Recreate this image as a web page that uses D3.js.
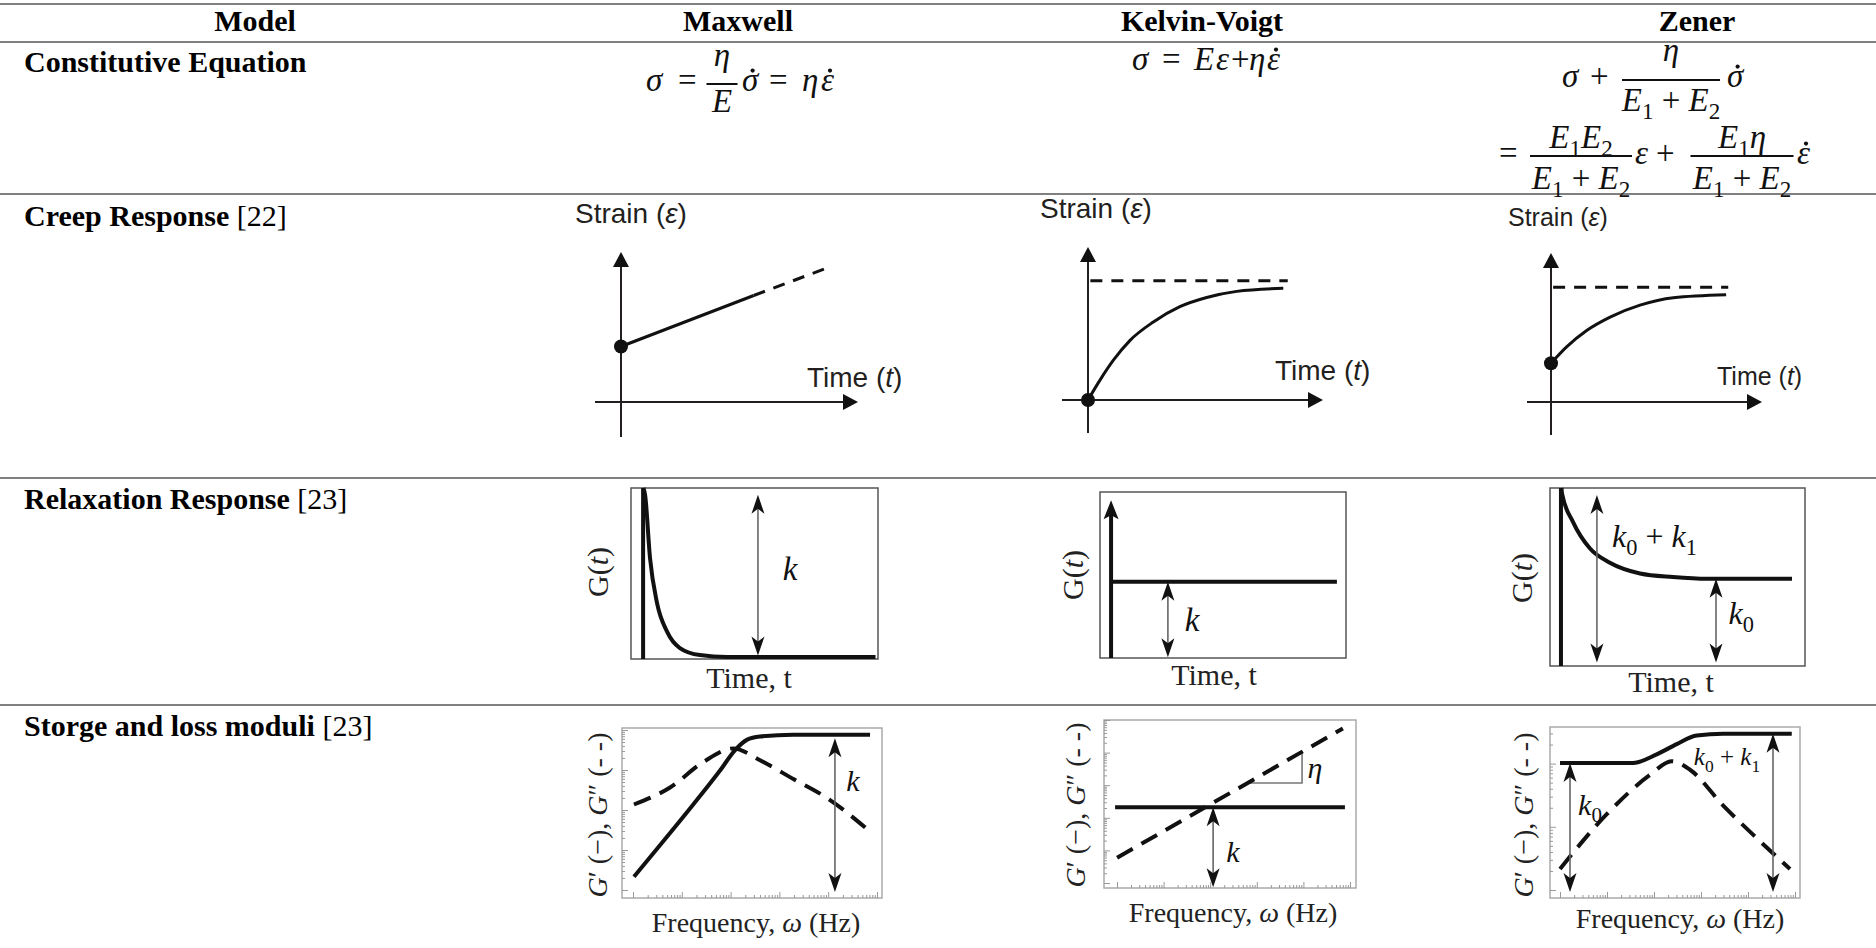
<!DOCTYPE html>
<html>
<head>
<meta charset="utf-8">
<script src="https://cdn.jsdelivr.net/npm/d3@7"></script>
<style>
  body { margin: 0; background: #fff; }
  text { white-space: pre; }
</style>
</head>
<body>
<div id="table"></div>
<script>
const serif = "'Liberation Serif', 'Times New Roman', serif";
const sans = "'Liberation Sans', Arial, sans-serif";
const ink = "#111";

// table text
let columns = ["Model", "Maxwell", "Kelvin-Voigt", "Zener"];
let rowTitles = ["Constitutive Equation", "Creep Response", "Relaxation Response", "Storge and loss moduli"];
let rowRefs = ["", " [22]", " [23]", " [23]"];

// creep response, time 0..10, strain 0..1
let maxwellCreepSolid = [[0, 0.37], [5.6, 0.71]];
let maxwellCreepDash = [[5.6, 0.71], [8.8, 0.90]];
let kelvinCreep = [[0, 0], [0.51, 0.13], [1.08, 0.26], [1.79, 0.39], [2.78, 0.51], [3.91, 0.61], [5.05, 0.67], [6.33, 0.71], [8.31, 0.73]];
let kelvinCreepLimit = [[0.1, 0.78], [8.5, 0.78]];
let zenerCreep = [[0, 0.26], [0.74, 0.37], [1.69, 0.48], [2.8, 0.57], [4.22, 0.65], [5.8, 0.70], [8.3, 0.72]];
let zenerCreepLimit = [[0.1, 0.77], [8.4, 0.77]];
let creepStart = [0.37, 0, 0.26];

// relaxation G(t), time 0..10, G 0..1
let relaxStepT = [0.49, 0.45, 0.43];
let maxwellRelax = [[0.5, 1.0], [0.57, 0.96], [0.77, 0.59], [1.05, 0.33], [1.46, 0.16], [1.98, 0.064], [2.79, 0.023], [3.89, 0.012], [9.9, 0.012]];
let kelvinRelax = [[0.45, 0.46], [9.63, 0.46]];
let zenerRelax = [[0.45, 1.0], [0.47, 0.97], [0.9, 0.81], [1.57, 0.66], [2.35, 0.58], [3.53, 0.52], [4.82, 0.50], [6.16, 0.49], [9.49, 0.49]];
let maxwellRelaxArrows = [[5.14, 0.02, 0.96]];
let kelvinRelaxArrows = [[2.76, 0.005, 0.46]];
let zenerRelaxArrows = [[1.84, 0.02, 0.96], [6.51, 0.02, 0.49]];

// storage (G', solid) and loss (G'', dashed) moduli, frequency 0..10, modulus 0..1
let maxwellG1 = [[0.46, 0.125], [1.46, 0.31], [2.74, 0.55], [3.77, 0.75], [4.35, 0.87], [4.8, 0.93], [5.31, 0.95], [6.59, 0.96], [9.54, 0.96]];
let maxwellG2 = [[0.46, 0.55], [1.85, 0.65], [3.13, 0.80], [4.28, 0.88], [5.31, 0.81], [6.59, 0.70], [7.87, 0.59], [9.47, 0.40]];
let kelvinG1 = [[0.44, 0.48], [9.56, 0.48]];
let kelvinG2 = [[0.52, 0.18], [9.48, 0.95]];
let kelvinSlope = [[5.79, 0.625], [7.86, 0.625], [7.86, 0.80]];
let zenerG1 = [[0.4, 0.79], [3.33, 0.79], [4.27, 0.84], [5.07, 0.90], [5.87, 0.95], [6.93, 0.96], [9.67, 0.96]];
let zenerG2 = [[0.4, 0.17], [2.27, 0.49], [4.0, 0.72], [4.87, 0.80], [5.6, 0.75], [6.93, 0.54], [8.27, 0.35], [9.6, 0.17]];
let maxwellStorageArrows = [[8.19, 0.035, 0.94]];
let kelvinStorageArrows = [[4.33, 0.005, 0.48]];
let zenerStorageArrows = [[0.8, 0.035, 0.79], [8.92, 0.035, 0.96]];

let svg = d3.select("#table").append("svg")
    .attr("width", 1876)
    .attr("height", 948);

// ---------- helpers ----------
function mathText(g, x, y, segs, size, anchor) {
    let t = g.append("text")
        .attr("x", x).attr("y", y)
        .attr("font-family", serif)
        .attr("font-size", size)
        .attr("text-anchor", anchor || "start")
        .attr("fill", ink);
    let shift = 0;
    segs.forEach(s => {
        let sp = t.append("tspan").text(s[0]);
        let want = s[1] === "sub" ? size * 0.25 : 0;
        if (want !== shift) { sp.attr("dy", want - shift); shift = want; }
        if (s[1] === "sub") sp.attr("font-size", size * 0.7);
        if (s[1] === "i") sp.attr("font-style", "italic");
    });
    return t;
}

// one glyph per item: [x, char, kind], kind "dot" puts a time-derivative dot on top
function glyphRow(g, y, items, size) {
    items.forEach(it => {
        let t = g.append("text")
            .attr("x", it[0]).attr("y", y)
            .attr("font-family", serif).attr("font-size", size)
            .attr("font-style", it[2] === "r" ? null : "italic")
            .attr("fill", ink)
            .text(it[1]);
        if (it[2] === "dot") {
            let w = t.node().getComputedTextLength();
            g.append("circle")
                .attr("cx", it[0] + w / 2 + 2.5)
                .attr("cy", y - size * 0.62)
                .attr("r", 2.1)
                .attr("fill", ink);
        }
    });
}

function frac(g, cx, barY, barW, num, numY, den, denY, size) {
    g.append("line")
        .attr("x1", cx - barW / 2).attr("x2", cx + barW / 2)
        .attr("y1", barY).attr("y2", barY)
        .attr("stroke", ink).attr("stroke-width", 2);
    mathText(g, cx, numY, num, size, "middle");
    mathText(g, cx, denY, den, size, "middle");
}

function head(g, x, y, angle, len, half, notch) {
    g.append("path")
        .attr("d", "M0,0L" + (-len) + "," + (-half) + "L" + (-len + notch) + ",0L" + (-len) + "," + half + "Z")
        .attr("transform", "translate(" + x + "," + y + ") rotate(" + angle + ")")
        .attr("fill", ink);
}

function dimArrow(g, x, y, a) {
    let px = x(a[0]), yb = y(a[1]), yt = y(a[2]);
    g.append("line")
        .attr("x1", px).attr("x2", px)
        .attr("y1", yt + 4).attr("y2", yb - 4)
        .attr("stroke", "#666").attr("stroke-width", 1.6);
    head(g, px, yt, -90, 19, 6.5, 5);
    head(g, px, yb, 90, 19, 6.5, 5);
}

function curve(g, x, y, pts, width, dash, type) {
    g.append("path")
        .datum(pts)
        .attr("d", d3.line().x(d => x(d[0])).y(d => y(d[1])).curve(type || d3.curveMonotoneX))
        .attr("fill", "none")
        .attr("stroke", ink)
        .attr("stroke-width", width)
        .attr("stroke-dasharray", dash || null);
}

// ---------- table frame ----------
[4, 42, 194, 478, 705].forEach(ry => {
    svg.append("line")
        .attr("x1", 0).attr("x2", 1876)
        .attr("y1", ry).attr("y2", ry)
        .attr("stroke", "#808080").attr("stroke-width", 2);
});

let colX = [255, 738, 1202, 1697];
svg.selectAll(".colhead")
    .data(columns)
    .enter()
    .append("text")
    .attr("class", "colhead")
    .attr("x", (d, i) => colX[i])
    .attr("y", 31)
    .attr("text-anchor", "middle")
    .attr("font-family", serif)
    .attr("font-weight", "bold")
    .attr("font-size", 30)
    .text(d => d);

let rowY = [72, 226, 509, 736];
rowTitles.forEach((r, i) => {
    let t = svg.append("text")
        .attr("x", 24).attr("y", rowY[i])
        .attr("font-family", serif)
        .attr("font-size", 30);
    t.append("tspan").attr("font-weight", "bold").text(r);
    t.append("tspan").text(rowRefs[i]);
});

// ---------- constitutive equations ----------
let eq = svg.append("g");
let es = 33;
let e1e2 = [["E", "i"], ["1", "sub"], [" + ", "r"], ["E", "i"], ["2", "sub"]];
// Maxwell
glyphRow(eq, 91, [[646, "σ", "i"], [678, "=", "r"], [742, "σ", "dot"], [769, "=", "r"], [802, "η", "i"], [821, "ε", "dot"]], es);
frac(eq, 722, 84, 31, [["η", "i"]], 66, [["E", "i"]], 112, es);
// Kelvin-Voigt
glyphRow(eq, 70, [[1132, "σ", "i"], [1162, "=", "r"], [1194, "E", "i"], [1216, "ε", "i"], [1231, "+", "r"], [1249, "η", "i"], [1267, "ε", "dot"]], es);
// Zener
glyphRow(eq, 87, [[1562, "σ", "i"], [1590, "+", "r"], [1727, "σ", "dot"]], es);
frac(eq, 1671, 80, 98, [["η", "i"]], 61, e1e2, 111, es);
glyphRow(eq, 164, [[1499, "=", "r"], [1635, "ε", "i"], [1656, "+", "r"], [1797, "ε", "dot"]], es);
frac(eq, 1581, 156, 102, [["E", "i"], ["1", "sub"], ["E", "i"], ["2", "sub"]], 148, e1e2, 189, es);
frac(eq, 1742, 156, 103, [["E", "i"], ["1", "sub"], ["η", "i"]], 148, e1e2, 189, es);

// ---------- creep response ----------
let creepBoxes = [
    {ox: 621, oy: 402, w: 237, h: 150, left: 26, down: 35, fs: 28, strain: [575, 223], time: [807, 387]},
    {ox: 1088, oy: 400, w: 235, h: 153, left: 26, down: 33, fs: 28, strain: [1040, 218], time: [1275, 380]},
    {ox: 1551, oy: 402, w: 211, h: 149, left: 24, down: 33, fs: 25, strain: [1508, 226], time: [1717, 385]}
];
let creepSolid = [maxwellCreepSolid, kelvinCreep, zenerCreep];
let creepDash = [maxwellCreepDash, kelvinCreepLimit, zenerCreepLimit];

creepBoxes.forEach((b, i) => {
    let g = svg.append("g");
    let x = d3.scaleLinear().domain([0, 10]).range([b.ox, b.ox + b.w]);
    let y = d3.scaleLinear().domain([0, 1]).range([b.oy, b.oy - b.h]);

    g.append("line")
        .attr("x1", b.ox - b.left).attr("x2", b.ox + b.w - 10)
        .attr("y1", b.oy).attr("y2", b.oy)
        .attr("stroke", "#231f20").attr("stroke-width", 2);
    head(g, b.ox + b.w, b.oy, 0, 15, 8, 0);
    g.append("line")
        .attr("x1", b.ox).attr("x2", b.ox)
        .attr("y1", b.oy + b.down).attr("y2", b.oy - b.h + 10)
        .attr("stroke", "#231f20").attr("stroke-width", 2);
    head(g, b.ox, b.oy - b.h, -90, 15, 8, 0);

    curve(g, x, y, creepDash[i], 3, "12,9", d3.curveLinear);
    curve(g, x, y, creepSolid[i], 3);
    g.append("circle")
        .attr("cx", x(0)).attr("cy", y(creepStart[i]))
        .attr("r", 7).attr("fill", ink);

    let st = g.append("text")
        .attr("x", b.strain[0]).attr("y", b.strain[1])
        .attr("font-family", sans).attr("font-size", b.fs).attr("fill", "#231f20");
    st.append("tspan").text("Strain (");
    st.append("tspan").attr("font-style", "italic").text("ε");
    st.append("tspan").text(")");
    let tt = g.append("text")
        .attr("x", b.time[0]).attr("y", b.time[1])
        .attr("font-family", sans).attr("font-size", b.fs).attr("fill", "#231f20");
    tt.append("tspan").text("Time (");
    tt.append("tspan").attr("font-style", "italic").text("t");
    tt.append("tspan").text(")");
});

// ---------- relaxation response ----------
let relaxBoxes = [
    {x0: 631, y0: 488, x1: 878, y1: 659, gl: [598, 572], tl: [749, 688]},
    {x0: 1100, y0: 492, x1: 1346, y1: 658, gl: [1073, 575], tl: [1214, 685]},
    {x0: 1550, y0: 488, x1: 1805, y1: 666, gl: [1522, 578], tl: [1671, 692]}
];
let relaxCurves = [maxwellRelax, kelvinRelax, zenerRelax];
let relaxArrows = [maxwellRelaxArrows, kelvinRelaxArrows, zenerRelaxArrows];
let relaxLabels = [
    [{t: 6.44, v: 0.52, s: [["k", "i"]], fs: 33}],
    [{t: 3.74, v: 0.22, s: [["k", "i"]], fs: 33}],
    [{t: 4.1, v: 0.72, s: [["k", "i"], ["0", "sub"], [" + ", "r"], ["k", "i"], ["1", "sub"]], fs: 32},
     {t: 7.5, v: 0.29, s: [["k", "i"], ["0", "sub"]], fs: 32}]
];

relaxBoxes.forEach((b, i) => {
    let g = svg.append("g");
    let x = d3.scaleLinear().domain([0, 10]).range([b.x0, b.x1]);
    let y = d3.scaleLinear().domain([0, 1]).range([b.y1, b.y0]);

    g.append("rect")
        .attr("x", b.x0).attr("y", b.y0)
        .attr("width", b.x1 - b.x0).attr("height", b.y1 - b.y0)
        .attr("fill", "none").attr("stroke", "#555").attr("stroke-width", 1.5);

    if (i === 1) {
        // instantaneous stress step drawn as an arrow
        g.append("line")
            .attr("x1", x(relaxStepT[i])).attr("x2", x(relaxStepT[i]))
            .attr("y1", y(0)).attr("y2", y(0.95) + 12)
            .attr("stroke", ink).attr("stroke-width", 4);
        head(g, x(relaxStepT[i]), y(0.95), -90, 19, 7.5, 4);
    } else {
        g.append("line")
            .attr("x1", x(relaxStepT[i])).attr("x2", x(relaxStepT[i]))
            .attr("y1", y(0)).attr("y2", y(1))
            .attr("stroke", ink).attr("stroke-width", 4);
    }
    curve(g, x, y, relaxCurves[i], 4);
    relaxArrows[i].forEach(a => dimArrow(g, x, y, a));
    relaxLabels[i].forEach(l => mathText(g, x(l.t), y(l.v) + l.fs * 0.3, l.s, l.fs, "middle"));

    let gt = g.append("text")
        .attr("transform", "translate(" + (b.gl[0] + 10) + "," + b.gl[1] + ") rotate(-90)")
        .attr("text-anchor", "middle")
        .attr("font-family", serif).attr("font-size", 30).attr("fill", "#222");
    gt.append("tspan").text("G(");
    gt.append("tspan").attr("font-style", "italic").text("t");
    gt.append("tspan").text(")");
    g.append("text")
        .attr("x", b.tl[0]).attr("y", b.tl[1])
        .attr("text-anchor", "middle")
        .attr("font-family", serif).attr("font-size", 30).attr("fill", "#222")
        .text("Time, t");
});

// ---------- storage and loss moduli ----------
let modBoxes = [
    {x0: 622, y0: 728, x1: 882, y1: 898, yl: [597, 815], fl: [756, 932], yDec: 4, yRange: [890, 730], xDec: 5, xRange: [633, 877]},
    {x0: 1104, y0: 720, x1: 1356, y1: 888, yl: [1075, 805], fl: [1233, 922], yDec: 5, yRange: [883, 720], xDec: 5, xRange: [1117, 1350]},
    {x0: 1550, y0: 727, x1: 1800, y1: 898, yl: [1523, 815], fl: [1680, 928], yDec: 2.5, yRange: [890, 732], xDec: 5, xRange: [1560, 1795]}
];
let modG1 = [maxwellG1, kelvinG1, zenerG1];
let modG2 = [maxwellG2, kelvinG2, zenerG2];
let modArrows = [maxwellStorageArrows, kelvinStorageArrows, zenerStorageArrows];
let modLabels = [
    [{t: 8.88, v: 0.68, s: [["k", "i"]], fs: 30}],
    [{t: 5.12, v: 0.21, s: [["k", "i"]], fs: 30}, {t: 8.37, v: 0.71, s: [["η", "i"]], fs: 30}],
    [{t: 1.6, v: 0.54, s: [["k", "i"], ["0", "sub"]], fs: 30},
     {t: 7.08, v: 0.82, s: [["k", "i"], ["0", "sub"], [" + ", "r"], ["k", "i"], ["1", "sub"]], fs: 25}]
];

let isMajor = d => Math.abs(Math.log10(d) - Math.round(Math.log10(d))) < 1e-6;

modBoxes.forEach((b, i) => {
    let g = svg.append("g");
    let x = d3.scaleLinear().domain([0, 10]).range([b.x0, b.x1]);
    let y = d3.scaleLinear().domain([0, 1]).range([b.y1, b.y0]);
    let lx = d3.scaleLog().domain([1, Math.pow(10, b.xDec)]).range(b.xRange);
    let ly = d3.scaleLog().domain([1, Math.pow(10, b.yDec)]).range(b.yRange);

    g.append("rect")
        .attr("x", b.x0).attr("y", b.y0)
        .attr("width", b.x1 - b.x0).attr("height", b.y1 - b.y0)
        .attr("fill", "none").attr("stroke", "#aaa").attr("stroke-width", 1.5);

    let ya = g.append("g")
        .attr("transform", "translate(" + b.x0 + ",0)")
        .call(d3.axisLeft(ly).tickFormat("").tickSizeOuter(0));
    ya.select(".domain").remove();
    ya.selectAll(".tick line").attr("x2", d => isMajor(d) ? 6 : 3).attr("stroke", "#999");

    let xa = g.append("g")
        .attr("transform", "translate(0," + b.y1 + ")")
        .call(d3.axisBottom(lx).tickFormat("").tickSizeOuter(0));
    xa.select(".domain").remove();
    xa.selectAll(".tick line").attr("y2", d => isMajor(d) ? -6 : -3).attr("stroke", "#999");

    if (i === 1) {
        g.append("path")
            .datum(kelvinSlope)
            .attr("d", d3.line().x(d => x(d[0])).y(d => y(d[1])))
            .attr("fill", "none").attr("stroke", "#777").attr("stroke-width", 1.6);
    }
    curve(g, x, y, modG2[i], 4, "18,10");
    curve(g, x, y, modG1[i], 4);
    modArrows[i].forEach(a => dimArrow(g, x, y, a));
    modLabels[i].forEach(l => mathText(g, x(l.t), y(l.v) + l.fs * 0.3, l.s, l.fs, "middle"));

    let yt = g.append("text")
        .attr("transform", "translate(" + (b.yl[0] + 10) + "," + b.yl[1] + ") rotate(-90)")
        .attr("text-anchor", "middle")
        .attr("font-family", serif).attr("font-size", 28).attr("fill", "#222");
    yt.append("tspan").attr("font-style", "italic").text("G");
    yt.append("tspan").text("′ (−), ");
    yt.append("tspan").attr("font-style", "italic").text("G");
    yt.append("tspan").text("″ (- -)");

    let ft = g.append("text")
        .attr("x", b.fl[0]).attr("y", b.fl[1])
        .attr("text-anchor", "middle")
        .attr("font-family", serif).attr("font-size", 28).attr("fill", "#222");
    ft.append("tspan").text("Frequency, ");
    ft.append("tspan").attr("font-style", "italic").text("ω");
    ft.append("tspan").text(" (Hz)");
});
</script>
</body>
</html>
